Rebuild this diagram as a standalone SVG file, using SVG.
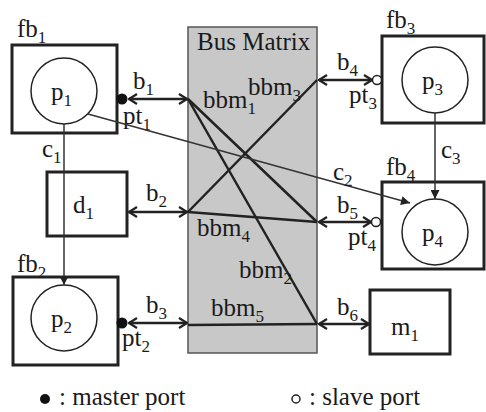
<svg xmlns="http://www.w3.org/2000/svg" width="486" height="412" viewBox="0 0 486 412" font-family="'Liberation Serif', 'DejaVu Serif', serif">
<defs>
<style>
text{font-family:'Liberation Serif','DejaVu Serif',serif;font-size:25px;fill:#1a1a1a}
.s{font-size:17px}
.box{fill:#fff;stroke:#222;stroke-width:3}
.proc{fill:#fff;stroke:#222;stroke-width:1.5}
.bus{fill:#c8c8c8;stroke:#555;stroke-width:1.5}
.b{stroke:#222;stroke-width:2.5;fill:none;marker-start:url(#chev);marker-end:url(#chev)}
.m{stroke:#222;stroke-width:2.5;fill:none}
.c{stroke:#333;stroke-width:1.5;fill:none;marker-end:url(#tri)}
.mp{fill:#111}
.sp{fill:#fff;stroke:#222;stroke-width:1.5}
</style>
<marker id="chev" viewBox="0 0 10 12" refX="9" refY="6" markerWidth="10" markerHeight="12" markerUnits="userSpaceOnUse" orient="auto-start-reverse">
<path d="M1,1 L9,6 L1,11" fill="none" stroke="#222" stroke-width="2.2"/>
</marker>
<marker id="tri" viewBox="0 0 10 10" refX="10" refY="5" markerWidth="10" markerHeight="9" markerUnits="userSpaceOnUse" orient="auto">
<path d="M0,0 L10,5 L0,10 Z" fill="#222"/>
</marker>
</defs>

<g id="busmatrix">
<rect class="bus" x="188" y="27" width="129" height="326"/>
<text x="197" y="50">Bus Matrix</text>
</g>

<g id="fb1">
<rect class="box" x="12" y="45" width="105" height="88"/>
<text x="17" y="37">fb<tspan class="s" dy="6">1</tspan></text>
<circle class="proc" cx="64" cy="91" r="33"/>
<text x="51" y="100">p<tspan class="s" dy="6">1</tspan></text>
</g>
<g id="pt1"><circle class="mp" cx="122" cy="99" r="5.5"/><text x="123" y="124">pt<tspan class="s" dy="6">1</tspan></text></g>

<g id="d1">
<rect class="box" x="47" y="172" width="80" height="64"/>
<text x="73" y="213">d<tspan class="s" dy="6">1</tspan></text>
</g>

<g id="fb2">
<rect class="box" x="13" y="277" width="105" height="88"/>
<text x="17" y="272">fb<tspan class="s" dy="6">2</tspan></text>
<circle class="proc" cx="64" cy="318" r="33"/>
<text x="51" y="327">p<tspan class="s" dy="6">2</tspan></text>
</g>
<g id="pt2"><circle class="mp" cx="122" cy="323" r="5.5"/><text x="122" y="346">pt<tspan class="s" dy="6">2</tspan></text></g>

<g id="fb3">
<rect class="box" x="382" y="36" width="102" height="87"/>
<text x="386" y="28">fb<tspan class="s" dy="6">3</tspan></text>
<circle class="proc" cx="435" cy="80" r="33"/>
<text x="422" y="89">p<tspan class="s" dy="6">3</tspan></text>
</g>
<g id="pt3"><circle class="sp" cx="377" cy="80" r="4.5"/><text x="349" y="103">pt<tspan class="s" dy="6">3</tspan></text></g>

<g id="fb4">
<rect class="box" x="382" y="182" width="102" height="87"/>
<text x="386" y="175">fb<tspan class="s" dy="6">4</tspan></text>
<circle class="proc" cx="435" cy="232" r="33"/>
<text x="422" y="241">p<tspan class="s" dy="6">4</tspan></text>
</g>
<g id="pt4"><circle class="sp" cx="376" cy="222" r="4.5"/><text x="348" y="245">pt<tspan class="s" dy="6">4</tspan></text></g>

<g id="m1">
<rect class="box" x="370" y="290" width="80" height="64"/>
<text x="391" y="335">m<tspan class="s" dy="6">1</tspan></text>
</g>

<g id="connectors">
<line class="b" x1="129" y1="99" x2="187" y2="99"/>
<line class="b" x1="129" y1="212" x2="187" y2="212"/>
<line class="b" x1="129" y1="323" x2="187" y2="323"/>
<line class="b" x1="319" y1="80" x2="372" y2="80"/>
<line class="b" x1="319" y1="222" x2="371" y2="222"/>
<line class="b" x1="319" y1="324" x2="369" y2="324"/>
<line class="m" x1="188" y1="99" x2="317" y2="222"/>
<line class="m" x1="188" y1="99" x2="317" y2="324"/>
<line class="m" x1="317" y1="80" x2="188" y2="212"/>
<line class="m" x1="188" y1="212" x2="317" y2="222"/>
<line class="m" x1="188" y1="325" x2="317" y2="324"/>
<line class="c" x1="64" y1="124" x2="64" y2="285"/>
<line class="c" x1="88" y1="114" x2="410" y2="203"/>
<line class="c" x1="435" y1="113" x2="435" y2="199"/>
<text x="133" y="89">b<tspan class="s" dy="6">1</tspan></text>
<text x="146" y="201">b<tspan class="s" dy="6">2</tspan></text>
<text x="146" y="313">b<tspan class="s" dy="6">3</tspan></text>
<text x="337" y="70">b<tspan class="s" dy="6">4</tspan></text>
<text x="337" y="213">b<tspan class="s" dy="6">5</tspan></text>
<text x="337" y="315">b<tspan class="s" dy="6">6</tspan></text>
<text x="42" y="157">c<tspan class="s" dy="6">1</tspan></text>
<text x="333" y="180">c<tspan class="s" dy="6">2</tspan></text>
<text x="441" y="158">c<tspan class="s" dy="6">3</tspan></text>
<text x="203" y="108">bbm<tspan class="s" dy="6">1</tspan></text>
<text x="239" y="278">bbm<tspan class="s" dy="6">2</tspan></text>
<text x="248" y="95">bbm<tspan class="s" dy="6">3</tspan></text>
<text x="197" y="236">bbm<tspan class="s" dy="6">4</tspan></text>
<text x="211" y="316">bbm<tspan class="s" dy="6">5</tspan></text>
</g>

<g id="legend">
<circle class="mp" cx="45" cy="399" r="5"/>
<text x="59" y="405">: master port</text>
<circle class="sp" cx="296" cy="399" r="4"/>
<text x="309" y="405">: slave port</text>
</g>
</svg>
